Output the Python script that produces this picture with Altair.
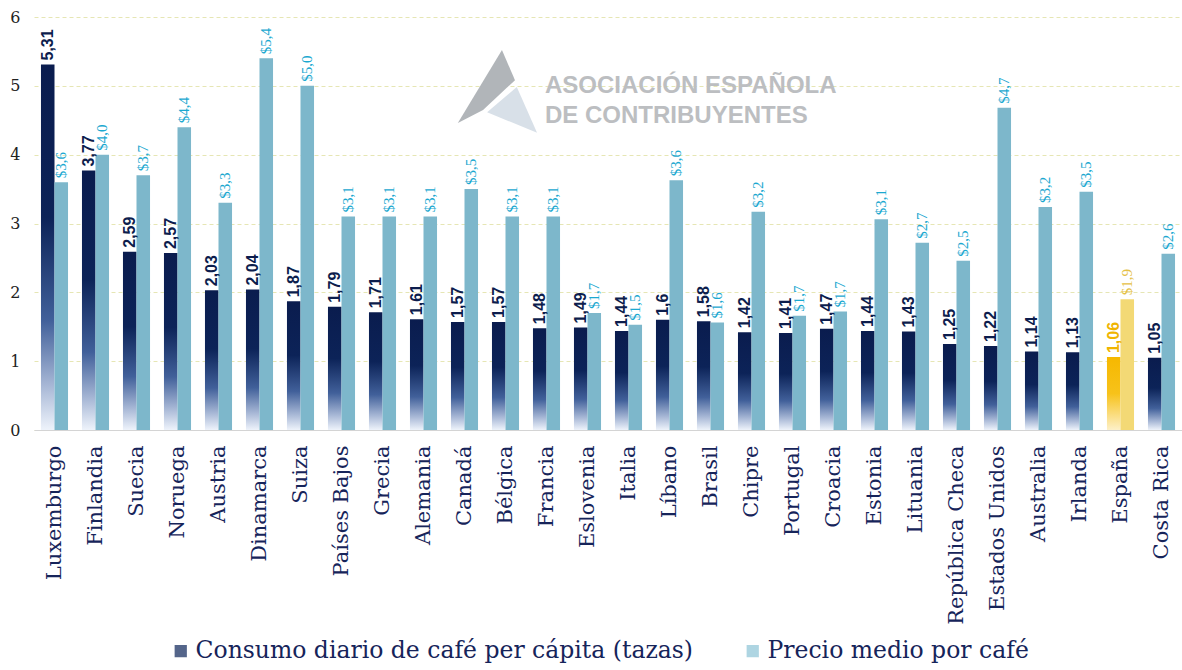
import altair as alt
import pandas as pd

countries = ["Luxemburgo", "Finlandia", "Suecia", "Noruega", "Austria", "Dinamarca", "Suiza",
             "Países Bajos", "Grecia", "Alemania", "Canadá", "Bélgica", "Francia", "Eslovenia",
             "Italia", "Líbano", "Brasil", "Chipre", "Portugal", "Croacia", "Estonia", "Lituania",
             "República Checa", "Estados Unidos", "Australia", "Irlanda", "España", "Costa Rica"]
consumo = [5.31, 3.77, 2.59, 2.57, 2.03, 2.04, 1.87, 1.79, 1.71, 1.61, 1.57, 1.57, 1.48, 1.49,
           1.44, 1.60, 1.58, 1.42, 1.41, 1.47, 1.44, 1.43, 1.25, 1.22, 1.14, 1.13, 1.06, 1.05]
consumo_labels = ["5,31", "3,77", "2,59", "2,57", "2,03", "2,04", "1,87", "1,79", "1,71", "1,61",
                  "1,57", "1,57", "1,48", "1,49", "1,44", "1,6", "1,58", "1,42", "1,41", "1,47",
                  "1,44", "1,43", "1,25", "1,22", "1,14", "1,13", "1,06", "1,05"]
precio = [3.60, 4.00, 3.70, 4.40, 3.30, 5.40, 5.00, 3.10, 3.10, 3.10, 3.50, 3.10, 3.10, 1.70,
          1.53, 3.63, 1.56, 3.17, 1.66, 1.72, 3.06, 2.72, 2.46, 4.68, 3.24, 3.46, 1.90, 2.56]
precio_labels = ["$3,6", "$4,0", "$3,7", "$4,4", "$3,3", "$5,4", "$5,0", "$3,1", "$3,1", "$3,1",
                 "$3,5", "$3,1", "$3,1", "$1,7", "$1,5", "$3,6", "$1,6", "$3,2", "$1,7", "$1,7",
                 "$3,1", "$2,7", "$2,5", "$4,7", "$3,2", "$3,5", "$1,9", "$2,6"]
series_names = ["Consumo diario de café per cápita (tazas)", "Precio medio por café"]
highlight = "España"
watermark_lines = ["ASOCIACIÓN ESPAÑOLA", "DE CONTRIBUYENTES"]

rows = []
for i, c in enumerate(countries):
    rows.append({"country": c, "serie": series_names[0], "key": "c", "value": consumo[i],
                 "label": consumo_labels[i], "hl": c == highlight})
    rows.append({"country": c, "serie": series_names[1], "key": "p", "value": precio[i],
                 "label": precio_labels[i], "hl": c == highlight})
df = pd.DataFrame(rows)

base = alt.Chart(df)
x_enc = alt.X("country:N", sort=countries,
              scale=alt.Scale(paddingInner=0.34, paddingOuter=0.17),
              axis=alt.Axis(title=None, labelAngle=-90, labelFont="DejaVu Serif", labelFontSize=21,
                            labelColor="#16245a", ticks=False, domainColor="#d4d4d4",
                            labelPadding=15, grid=False, labelLimit=300))
y_enc = alt.Y("value:Q", scale=alt.Scale(domain=[0, 6]),
              axis=alt.Axis(title=None, values=[0, 1, 2, 3, 4, 5, 6], labelFont="DejaVu Serif",
                            labelFontSize=16, labelColor="#222222", domain=False, ticks=False,
                            labelPadding=14, grid=True, gridColor="#e6e6b4", gridDash=[4, 3],
                            gridWidth=1))
xo = alt.XOffset("key:N", scale=alt.Scale(domain=["c", "p"]))

navy_grad = alt.Gradient(gradient="linear", x1=0, x2=0, y1=0, y2=1, stops=[
    alt.GradientStop(offset=0, color="#0a1c4e"),
    alt.GradientStop(offset=0.42, color="#0c2358"),
    alt.GradientStop(offset=0.7, color="#41609a"),
    alt.GradientStop(offset=0.88, color="#a8b8d6"),
    alt.GradientStop(offset=1, color="#eef3fb")])
yellow_grad = alt.Gradient(gradient="linear", x1=0, x2=0, y1=0, y2=1, stops=[
    alt.GradientStop(offset=0, color="#f6b800"),
    alt.GradientStop(offset=0.5, color="#f7c21a"),
    alt.GradientStop(offset=1, color="#fdf0c8")])

# watermark
wm_text = alt.Chart(pd.DataFrame({"t": watermark_lines, "yy": [69, 99]})).mark_text(
    align="left", baseline="middle", font="Liberation Sans", fontSize=24, fontWeight="bold",
    color="#bcbec1").encode(text="t:N", x=alt.value(511), y=alt.Y("yy:Q", scale=None))
logo_dark = alt.Chart(pd.DataFrame({"a": [0]})).mark_point(
    shape="M -0.87 0.71 L 0.11 -0.91 L 0.4 -0.24 L -0.31 0.42 Z", size=8100, filled=True,
    color="#b1b5b9", opacity=1).encode(x=alt.value(463), y=alt.value(74))
logo_light = alt.Chart(pd.DataFrame({"a": [0]})).mark_point(
    shape="M 0.44 -0.09 L -0.22 0.47 L 0.89 0.93 Z", size=8100, filled=True,
    color="#d8e0e8", opacity=1).encode(x=alt.value(463), y=alt.value(74))

bars_c = base.transform_filter("datum.key == 'c' && !datum.hl").mark_bar(
    color=navy_grad).encode(x=x_enc, xOffset=xo, y=y_enc)
bars_c_hl = base.transform_filter("datum.key == 'c' && datum.hl").mark_bar(
    color=yellow_grad).encode(x=x_enc, xOffset=xo, y=y_enc)
bars_p = base.transform_filter("datum.key == 'p' && !datum.hl").mark_bar(
    color="#7db7cb").encode(x=x_enc, xOffset=xo, y=y_enc)
bars_p_hl = base.transform_filter("datum.key == 'p' && datum.hl").mark_bar(
    color="#f3d975").encode(x=x_enc, xOffset=xo, y=y_enc)

txt_c = base.transform_filter("datum.key == 'c'").mark_text(
    angle=270, align="left", baseline="middle", dx=4, font="Liberation Sans", fontSize=16,
    fontWeight="bold").encode(
    x=x_enc, xOffset=xo, y=y_enc, text="label:N",
    color=alt.condition("datum.hl", alt.value("#f0b400"), alt.value("#0c1d4d")))
txt_p = base.transform_filter("datum.key == 'p'").mark_text(
    angle=270, align="left", baseline="middle", dx=4, font="Liberation Serif", fontSize=15).encode(
    x=x_enc, xOffset=xo, y=y_enc, text="label:N",
    color=alt.condition("datum.hl", alt.value("#e5bf45"), alt.value("#1ba8d0")))

legend_layer = base.transform_filter("false").mark_square().encode(
    x=x_enc, y=y_enc,
    color=alt.Color("serie:N", scale=alt.Scale(domain=series_names, range=["#0c2358", "#8cc3d6"]),
                    legend=alt.Legend(title=None, orient="none", legendX=135, legendY=622,
                                      direction="horizontal", labelFont="DejaVu Serif",
                                      labelFontSize=23.5, labelColor="#16245a", symbolType="square",
                                      symbolSize=150, columnPadding=47, labelOffset=3,
                                      labelLimit=700)))

chart = alt.layer(logo_dark, logo_light, wm_text, bars_c, bars_c_hl, bars_p, bars_p_hl,
                  txt_c, txt_p, legend_layer).properties(
    width=1148, height=413,
    autosize=alt.AutoSizeParams(type="none"),
    padding={"left": 34, "top": 17, "right": 0, "bottom": 240},
    background="white"
).configure_view(stroke=None)

chart.save("out.html", embed_options={"renderer": "svg", "actions": False})
